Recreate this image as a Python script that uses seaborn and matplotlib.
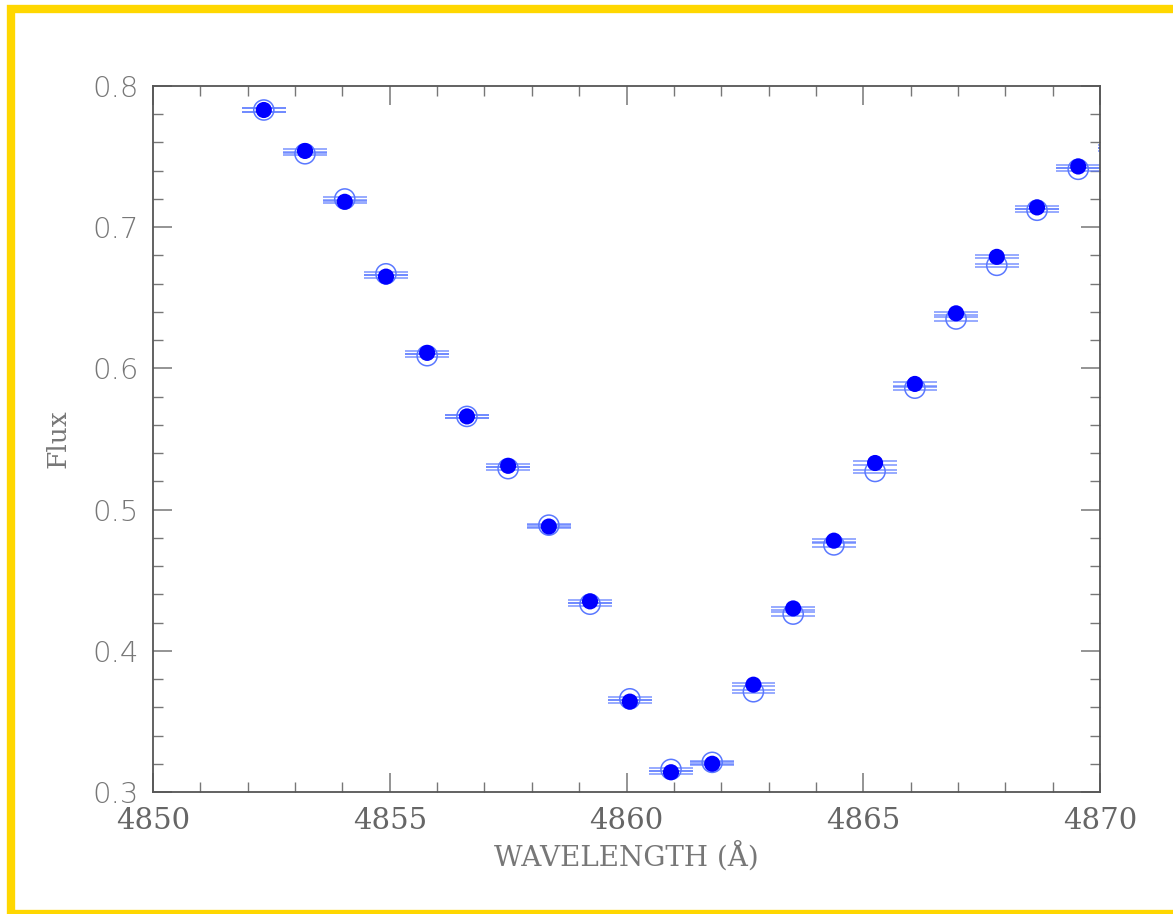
import numpy as np
import pandas as pd
import matplotlib
matplotlib.use("Agg")
import matplotlib.pyplot as plt
import matplotlib.transforms as mtransforms
from matplotlib.patches import Rectangle
from matplotlib.ticker import MultipleLocator
import seaborn as sns

wavelength = [4852.34, 4853.21, 4854.05, 4854.92, 4855.79, 4856.63, 4857.50,
              4858.36, 4859.23, 4860.07, 4860.94, 4861.81, 4862.68, 4863.52,
              4864.38, 4865.25, 4866.09, 4866.96, 4867.82, 4868.67, 4869.54,
              4870.41]
flux_obs = [0.783, 0.754, 0.718, 0.665, 0.611, 0.566, 0.531, 0.488, 0.435,
            0.364, 0.314, 0.320, 0.376, 0.430, 0.478, 0.533, 0.589, 0.639,
            0.679, 0.714, 0.743, 0.757]
flux_model = [0.783, 0.752, 0.720, 0.667, 0.609, 0.566, 0.529, 0.489, 0.433,
              0.366, 0.316, 0.321, 0.371, 0.426, 0.475, 0.527, 0.586, 0.635,
              0.673, 0.712, 0.741, 0.755]
bin_halfwidth = 0.46

df = pd.DataFrame({"wavelength": wavelength, "obs": flux_obs, "model": flux_model})

sns.set_style("white")
fig = plt.figure(figsize=(11.73, 9.14), dpi=100)
ax = fig.add_axes([153 / 1173, 1 - 792 / 914, (1100 - 153) / 1173, (792 - 86) / 914])

bar_color = "#5a78ff"
for ycol in ["model", "obs"]:
    for dy in (-1.6, 1.6):
        tr = mtransforms.offset_copy(ax.transData, fig=fig, x=0, y=dy, units="dots")
        ax.errorbar(df["wavelength"], df[ycol], xerr=bin_halfwidth, fmt="none",
                    ecolor=bar_color, elinewidth=1.1, alpha=0.8, capsize=0,
                    transform=tr, zorder=2)

sns.scatterplot(data=df, x="wavelength", y="model", ax=ax, s=210,
                facecolor="none", edgecolor=bar_color, linewidth=1.1, zorder=3)
sns.scatterplot(data=df, x="wavelength", y="obs", ax=ax, s=135,
                color="#0000ff", edgecolor="none", zorder=4)

ax.set_xlim(4850, 4870)
ax.set_ylim(0.3, 0.8)
ax.xaxis.set_major_locator(MultipleLocator(5))
ax.xaxis.set_minor_locator(MultipleLocator(1))
ax.yaxis.set_major_locator(MultipleLocator(0.1))
ax.yaxis.set_minor_locator(MultipleLocator(0.02))

frame_c = "#555555"
for sp in ax.spines.values():
    sp.set_color(frame_c)
    sp.set_linewidth(1.3)
ax.tick_params(which="both", direction="in", top=True, right=True,
               bottom=True, left=True, color="#777777")
ax.tick_params(which="major", length=14, width=1.1)
ax.tick_params(which="minor", length=7, width=1.0)
ax.tick_params(axis="y", which="major", pad=10)
ax.tick_params(axis="x", which="major", pad=11)

ax.set_xticks([4850, 4855, 4860, 4865, 4870])
ax.set_xticklabels(["4850", "4855", "4860", "4865", "4870"],
                   family="DejaVu Serif", fontsize=21, color="#666666", fontweight="light")
ax.set_yticks([0.3, 0.4, 0.5, 0.6, 0.7, 0.8])
ax.set_yticklabels(["0.3", "0.4", "0.5", "0.6", "0.7", "0.8"],
                   family="DejaVu Sans", fontsize=21, color="#777777", fontweight="light")

ax.set_xlabel("WAVELENGTH (Å)", family="DejaVu Serif", fontsize=20,
              color="#777777", labelpad=4)
ax.set_ylabel("Flux", family="DejaVu Serif", fontsize=19, color="#777777",
              labelpad=16)

fig.patches.append(Rectangle((11 / 1173, 0), 1.2, 1 - 9 / 914, transform=fig.transFigure,
                             fill=False, edgecolor="#ffd700", linewidth=6, zorder=0))

fig.savefig("out.png", dpi=100)
